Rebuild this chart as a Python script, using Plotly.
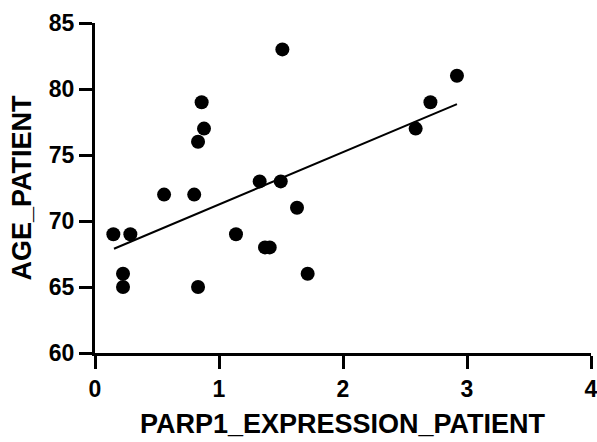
import plotly.graph_objects as go

# Data
parp1_expression = [0.148, 0.285, 0.226, 0.226, 0.557, 0.800, 0.831, 0.860, 0.879, 0.831,
                    1.137, 1.328, 1.371, 1.409, 1.498, 1.511, 1.629, 1.715, 2.586, 2.705, 2.919]
age_patient = [69, 69, 66, 65, 72, 72, 76, 79, 77, 65,
               69, 73, 68, 68, 73, 83, 71, 66, 77, 79, 81]

# Fitted line endpoints
fit_x = [0.153, 2.919]
fit_y = [67.9, 78.86]

x_ticks = [0, 1, 2, 3, 4]
y_ticks = [60, 65, 70, 75, 80, 85]

FONT = "Liberation Sans, Arial, Helvetica, sans-serif"

fig = go.Figure()
fig.add_trace(go.Scatter(
    x=fit_x, y=fit_y, mode="lines",
    line=dict(color="black", width=2),
    showlegend=False, hoverinfo="skip",
))
fig.add_trace(go.Scatter(
    x=parp1_expression, y=age_patient, mode="markers",
    marker=dict(color="black", size=14, line=dict(width=0)),
    showlegend=False, cliponaxis=False,
))

axis_common = dict(
    showline=True, linecolor="black", linewidth=3,
    ticks="outside", ticklen=13, tickwidth=3, tickcolor="black",
    showgrid=False, zeroline=False, automargin=False,
    ticklabeloverflow="allow",
    tickfont=dict(family=FONT, size=23, color="black", weight="bold"),
)

fig.update_xaxes(range=[0, 4], tickvals=x_ticks, **axis_common)
fig.update_yaxes(range=[60, 85], tickvals=y_ticks, **axis_common)

fig.update_layout(
    width=597, height=442,
    margin=dict(l=95, r=6, t=23, b=89),
    plot_bgcolor="white", paper_bgcolor="white",
    annotations=[
        dict(text="PARP1_EXPRESSION_PATIENT", xref="paper", yref="paper",
             x=0.5, y=-0.215, xanchor="center", yanchor="middle", showarrow=False,
             font=dict(family=FONT, size=27, color="black", weight="bold")),
        dict(text="AGE_PATIENT", xref="paper", yref="paper",
             x=-0.148, y=0.5, xanchor="center", yanchor="middle", showarrow=False,
             textangle=-90,
             font=dict(family=FONT, size=27, color="black", weight="bold")),
    ],
)

fig.write_html("out.html",
               config={"displayModeBar": False},
               post_script="document.body.style.margin='0';document.body.style.overflow='hidden';")
